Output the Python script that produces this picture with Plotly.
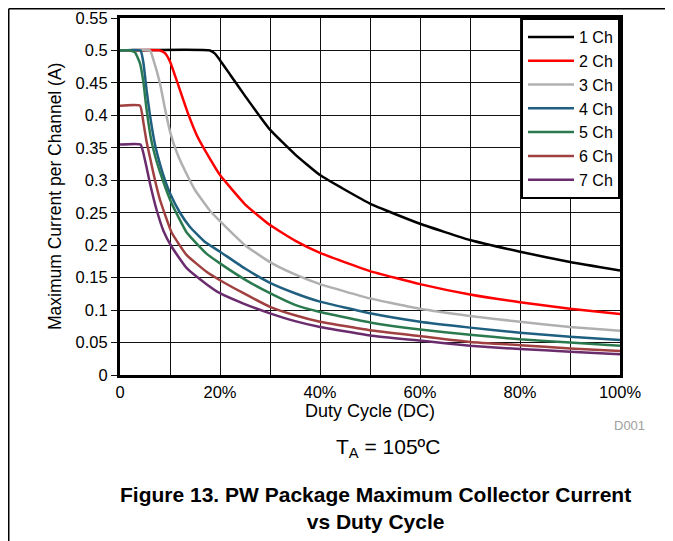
import plotly.graph_objects as go

# Duty cycle (%) and maximum current per channel (A)
ch1_x = [0, 18, 19, 20, 22, 25, 30, 35, 40, 50, 60, 70, 80, 90, 100]
ch1_y = [0.5, 0.5, 0.495, 0.485, 0.463, 0.43, 0.378, 0.34, 0.308, 0.264, 0.233, 0.208, 0.19, 0.174, 0.161]

ch2_x = [0, 8, 9, 10, 11.5, 13.5, 15.5, 18, 20, 25, 30, 35, 40, 50, 60, 70, 80, 90, 100]
ch2_y = [0.5, 0.5, 0.496, 0.483, 0.45, 0.405, 0.367, 0.333, 0.308, 0.263, 0.231, 0.207, 0.188, 0.16, 0.14, 0.124, 0.112, 0.102, 0.094]

ch3_x = [0, 6, 6.7, 8, 9, 10, 11.5, 13.3, 15, 18, 20, 25, 30, 35, 40, 50, 60, 70, 80, 90, 100]
ch3_y = [0.5, 0.5, 0.485, 0.449, 0.41, 0.375, 0.34, 0.31, 0.285, 0.253, 0.237, 0.2, 0.174, 0.155, 0.14, 0.118, 0.102, 0.091, 0.082, 0.074, 0.068]

ch4_x = [0, 4.1, 4.7, 5.3, 6, 7, 8, 9, 10, 12, 14, 17, 20, 25, 30, 35, 40, 50, 60, 70, 80, 90, 100]
ch4_y = [0.5, 0.5, 0.48, 0.44, 0.4, 0.355, 0.325, 0.3, 0.28, 0.25, 0.228, 0.205, 0.19, 0.164, 0.142, 0.126, 0.113, 0.095, 0.082, 0.073, 0.065, 0.059, 0.054]

ch5_x = [0, 2, 3, 4, 4.7, 5.3, 6.3, 7.3, 8.7, 10.3, 13.3, 17.3, 20, 25, 30, 35, 40, 50, 60, 70, 80, 90, 100]
ch5_y = [0.5, 0.5, 0.497, 0.48, 0.45, 0.41, 0.36, 0.33, 0.297, 0.265, 0.22, 0.187, 0.172, 0.147, 0.126, 0.108, 0.097, 0.081, 0.07, 0.062, 0.055, 0.05, 0.045]

ch6_x = [0, 4, 4.7, 5.3, 6, 7, 8, 10.3, 13.3, 17.3, 20, 24.7, 30, 35, 40, 50, 60, 70, 80, 90, 100]
ch6_y = [0.415, 0.415, 0.388, 0.36, 0.335, 0.3, 0.27, 0.22, 0.185, 0.159, 0.146, 0.126, 0.105, 0.092, 0.082, 0.069, 0.06, 0.051, 0.046, 0.041, 0.037]

ch7_x = [0, 4.1, 5, 6, 7.3, 8.7, 10.3, 13.3, 17.3, 20, 24.7, 30, 35, 40, 50, 60, 70, 80, 90, 100]
ch7_y = [0.355, 0.355, 0.331, 0.295, 0.255, 0.222, 0.198, 0.165, 0.14, 0.126, 0.11, 0.095, 0.083, 0.074, 0.061, 0.053, 0.045, 0.04, 0.036, 0.032]

names = ["1 Ch", "2 Ch", "3 Ch", "4 Ch", "5 Ch", "6 Ch", "7 Ch"]
colors = ["#000000", "#FF0000", "#B0B0B0", "#1F5F80", "#2B7A4F", "#A04040", "#6B2C6E"]
xs = [ch1_x, ch2_x, ch3_x, ch4_x, ch5_x, ch6_x, ch7_x]
ys = [ch1_y, ch2_y, ch3_y, ch4_y, ch5_y, ch6_y, ch7_y]

x_tickvals = [0, 20, 40, 60, 80, 100]
x_ticktext = ["0", "20%", "40%", "60%", "80%", "100%"]

FONT = "Liberation Sans, Arial, sans-serif"

fig = go.Figure()
for n, c, x, y in zip(names, colors, xs, ys):
    fig.add_trace(go.Scatter(x=x, y=y, name=n, mode="lines",
                             line=dict(color=c, width=2.5, shape="spline", smoothing=0.4)))

# the page body adds an 8 px offset; work in page pixel coordinates
OFF = 8
W, H = 673 - OFF, 541 - OFF
PL, PT, PR, PB = 120, 18, 620, 375          # plot area in page pixels
L, T = PL - OFF, PT - OFF
R, B = W - (PR - OFF), H - (PB - OFF)
pw, ph = W - L - R, H - T - B


def px(p):
    return (p - OFF - L) / pw


def py(q):
    return (H - B - (q - OFF)) / ph


fig.update_layout(
    width=W, height=H,
    margin=dict(l=L, r=R, t=T, b=B, autoexpand=False),
    paper_bgcolor="white", plot_bgcolor="white",
    font=dict(family=FONT, size=16, color="black"),
    showlegend=True,
    legend=dict(x=1, y=1, xanchor="right", yanchor="top",
                bordercolor="black", borderwidth=2, bgcolor="white",
                font=dict(size=16), tracegroupgap=0, itemwidth=46),
    xaxis=dict(range=[0, 100], tickvals=x_tickvals, ticktext=x_ticktext,
               showgrid=True, gridcolor="#111111", gridwidth=1,
               minor=dict(dtick=10, showgrid=True, gridcolor="#111111", gridwidth=1),
               showline=True, linecolor="black", linewidth=3, mirror=True,
               ticks="", zeroline=False, automargin=False,
               tickfont=dict(size=16.5)),
    yaxis=dict(range=[0, 0.55], dtick=0.05, tick0=0,
               showgrid=True, gridcolor="#111111", gridwidth=1,
               showline=True, linecolor="black", linewidth=3, mirror=True,
               ticks="outside", ticklen=6, tickcolor="#111111", tickwidth=1,
               zeroline=False, automargin=False, tickfont=dict(size=16.5)),
)

fig.add_annotation(text="Maximum Current per Channel (A)", xref="paper", yref="paper",
                   x=px(55), y=py(197), xanchor="center", yanchor="middle", textangle=-90,
                   showarrow=False, font=dict(size=17.5))
fig.add_annotation(text="Duty Cycle (DC)", xref="paper", yref="paper",
                   x=px(370), y=py(411), xanchor="center", yanchor="middle",
                   showarrow=False, font=dict(size=18))
fig.add_annotation(text="D001", xref="paper", yref="paper",
                   x=px(647), y=py(425), xanchor="right", yanchor="middle",
                   showarrow=False, font=dict(size=13, color="#A0A0A0"))
fig.add_annotation(text="T<sub>A</sub> = 105ºC", xref="paper", yref="paper",
                   x=px(388), y=py(448), xanchor="center", yanchor="middle",
                   showarrow=False, font=dict(size=21))
fig.add_annotation(text="<b>Figure 13. PW Package Maximum Collector Current<br>vs Duty Cycle</b>",
                   xref="paper", yref="paper",
                   x=px(375), y=py(508), xanchor="center", yanchor="middle",
                   showarrow=False, font=dict(size=21))

# outer figure frame (top and left edges)
fig.add_shape(type="line", xref="paper", yref="paper",
              x0=px(8.75), y0=py(8.75), x1=px(700), y1=py(8.75), line=dict(color="black", width=1.5))
fig.add_shape(type="line", xref="paper", yref="paper",
              x0=px(8.75), y0=py(8.75), x1=px(8.75), y1=py(560), line=dict(color="black", width=1.5))

fig.write_html("out.html")
